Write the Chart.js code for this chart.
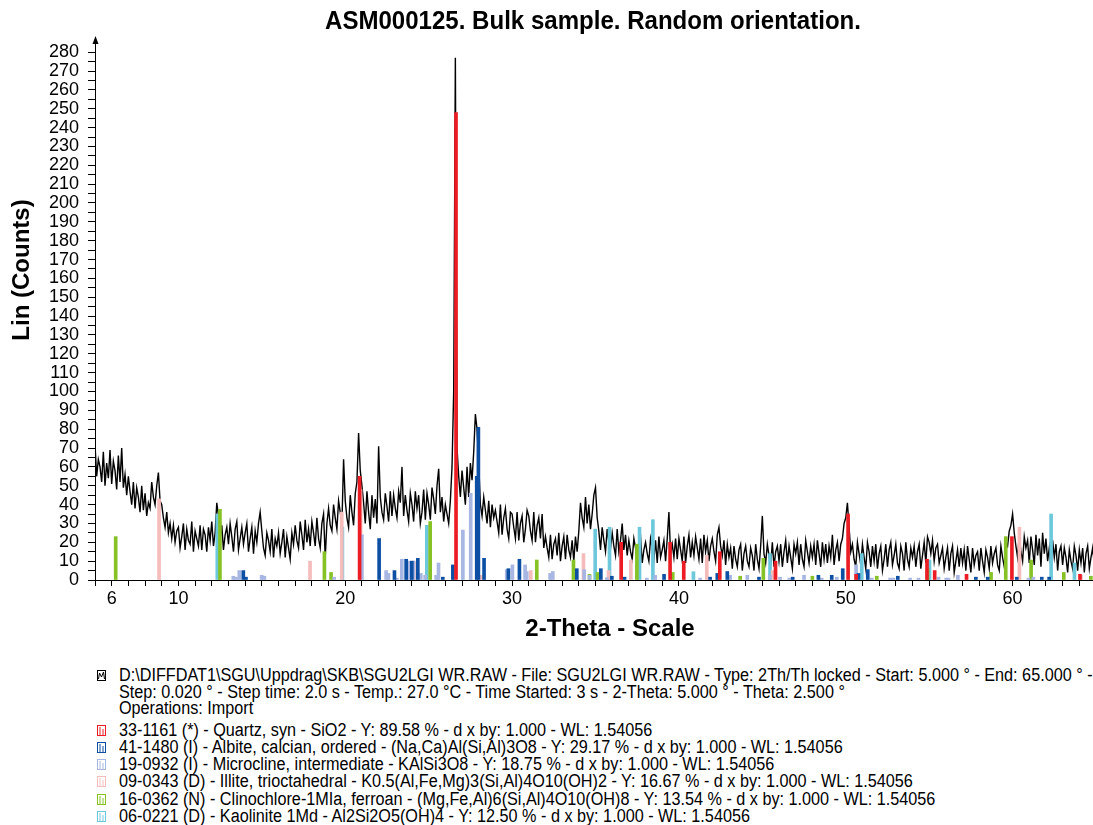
<!DOCTYPE html>
<html>
<head>
<meta charset="utf-8">
<script src="https://cdn.jsdelivr.net/npm/chart.js@4"></script>
<style>
  body { margin: 0; background: #fff; width: 1093px; height: 825px; overflow: hidden; position: relative; font-family: "Liberation Sans", Arial, sans-serif; }
  #wrap { position: absolute; left: 0; top: 0; width: 1100px; height: 660px; }
  .leg { position: absolute; left: 119px; font-size: 18px; line-height: 17px; color: #000; white-space: nowrap; transform: scaleX(0.9); transform-origin: 0 0; }
  .ico { position: absolute; left: 97px; width: 9px; height: 11px; }
</style>
</head>
<body>
<div id="wrap"><canvas id="xrdChart" width="1100" height="660"></canvas></div>
<div id="legend"></div>
<script>
// measured pattern: 2-Theta from 5.0 in steps of 0.1 deg
var thetaStart = 5.0;
var thetaStep = 0.1;
var counts = [
    72,55,64,60,52,68,50,62,54,69,
    51,63,58,48,66,52,70,49,56,45,
    55,47,40,52,38,49,44,36,50,37,
    46,34,41,38,52,44,40,50,57,42,
    40,33,28,36,25,30,22,29,20,26,
    28,17,23,30,16,27,21,19,31,15,
    26,22,18,29,16,27,24,15,28,21,
    31,18,25,41,34,22,29,16,24,28,
    19,30,23,15,27,31,16,22,28,19,
    25,30,15,22,28,14,26,20,30,36,
    26,17,13,25,21,15,27,12,22,18,
    25,14,20,27,12,23,17,11,25,19,
    29,21,17,31,24,16,32,20,27,18,
    31,25,18,33,22,17,30,35,12,30,
    38,29,26,40,33,27,42,36,30,64,
    42,33,28,45,36,29,46,52,78,58,
    50,41,30,47,36,27,45,33,43,30,
    71,44,36,32,46,39,31,47,34,45,
    38,33,47,41,60,34,45,37,31,46,
    40,31,47,38,45,30,36,48,32,46,
    40,32,49,43,35,50,59,36,44,31,
    40,35,30,42,60,100,277,70,55,44,
    58,49,40,60,44,62,53,68,88,80,
    62,40,34,44,37,30,42,28,40,33,
    37,31,25,40,24,33,38,27,22,36,
    35,28,22,36,21,30,34,20,27,37,
    34,26,21,36,20,29,33,22,35,17,
    23,17,12,24,11,19,22,13,25,10,
    18,23,11,24,16,12,21,10,23,15,
    26,41,33,28,44,30,40,27,35,45,
    49,33,26,16,28,21,15,27,20,17,
    25,18,13,27,15,21,30,16,24,13,
    21,15,11,22,17,10,20,23,9,16,
    20,14,10,22,17,11,21,9,23,12,
    16,21,10,22,36,14,19,12,22,11,
    22,16,10,23,9,18,24,12,20,13,
    23,17,11,22,9,24,15,21,10,18,
    22,15,10,24,28,18,13,21,8,19,
    12,17,6,18,11,7,16,19,5,14,
    18,10,7,17,13,5,19,11,6,18,
    34,14,9,19,13,8,20,7,15,18,
    10,19,7,15,21,9,18,12,6,19,
    14,20,8,19,11,7,21,15,9,18,
    12,19,8,21,14,7,20,11,19,9,
    18,12,24,8,16,20,10,19,22,30,
    33,41,28,15,19,11,7,20,14,8,
    19,12,6,20,15,7,18,10,19,6,
    14,18,5,11,19,7,16,20,8,13,
    19,9,6,18,14,5,20,11,7,17,
    12,18,7,15,19,6,13,20,9,23,
    20,14,21,10,17,19,9,13,17,6,
    12,17,5,14,18,4,10,16,7,17,
    9,16,5,18,11,4,17,8,13,15,
    5,17,10,4,16,12,6,18,9,14,
    17,8,5,18,12,7,20,18,26,29,
    35,25,18,12,24,15,10,23,17,21,
    9,23,16,8,24,13,22,7,25,14,
    22,10,17,6,21,12,19,5,15,18,
    8,17,12,4,16,10,6,18,13,5,
    16,9,17,4,14,18,6,12,17,8,
    10
];

// reference patterns (stick positions in deg 2-Theta, heights in counts)
var quartzPos = [20.86, 26.64, 36.54, 39.47, 40.29, 42.45, 45.79, 50.14, 50.62, 54.87, 55.33, 57.24, 59.96, 64.04];
var quartzInt = [55, 248, 20, 20, 10, 15, 10, 35, 3, 11, 5, 3, 23, 3];

var albitePos = [13.89, 14.05, 22.03, 22.95, 23.65, 23.99, 24.35, 25.85, 26.45, 27.88, 27.98, 28.32, 29.78, 30.44, 33.88, 35.32, 35.98, 36.74, 39.11, 41.87, 42.30, 42.90, 44.80, 46.82, 48.36, 49.16, 49.82, 50.76, 51.32, 53.12, 57.80, 58.51, 60.25, 61.75, 62.19];
var albiteInt = [5, 1.5, 22, 5, 11, 10, 11.5, 1.5, 8, 55, 81, 11.5, 6, 11, 6, 6, 2, 1.5, 3, 1.5, 3.5, 4.5, 1.5, 1.5, 2.5, 2.5, 6, 3.5, 5.5, 2, 1.5, 1.5, 1.5, 1.5, 1.5];

var microclinePos = [13.29, 13.45, 13.65, 14.99, 15.15, 19.33, 21.00, 22.45, 22.59, 23.09, 23.39, 23.79, 24.09, 24.53, 24.79, 25.45, 25.59, 27.05, 27.52, 29.68, 30.02, 30.78, 30.88, 32.28, 32.44, 34.32, 34.64, 35.68, 38.08, 38.58, 41.27, 43.07, 44.10, 45.46, 46.06, 46.62, 47.50, 48.56, 49.46, 50.62, 51.56, 52.66, 52.86, 53.86, 54.36, 55.56, 56.02, 56.16, 56.72, 60.95, 61.25];
var microclineInt = [2, 1.5, 5, 2.5, 2, 1.5, 24, 5, 3.5, 1, 11, 10, 10, 3.5, 2.5, 2.5, 9, 26.5, 46, 5.5, 8, 8, 4.5, 3.5, 4.5, 5.5, 2.5, 1.2, 1, 2.5, 1, 2.5, 2.5, 2.5, 1.5, 1, 2.5, 1, 1.5, 8, 1, 1, 1, 1, 1, 1.5, 1, 1, 2.5, 1, 1.5];

var illitePos = [8.84, 17.89, 19.79, 20.92, 24.12, 28.12, 31.12, 34.28, 35.78, 37.12, 41.67, 45.62, 60.41, 64.10];
var illiteInt = [43, 10, 36, 48, 10, 2.5, 5, 14, 5, 10.6, 13, 5, 28, 2.5];

var chlorPos = [6.24, 12.49, 18.75, 19.15, 25.09, 31.48, 33.68, 34.64, 35.12, 37.48, 39.63, 43.67, 45.06, 48.00, 51.86, 54.90, 58.71, 59.59, 61.11, 63.07, 64.69];
var chlorInt = [23, 37.5, 15, 4, 31, 10.6, 10.6, 3, 4, 19, 4, 2, 11.5, 2, 2, 6, 4, 23, 10.6, 4, 2];

var kaolPos = [12.33, 19.83, 24.89, 34.98, 35.84, 37.64, 38.44, 40.87, 45.46, 50.96, 55.02, 62.31, 63.71];
var kaolInt = [35, 28, 29, 27, 28, 28, 32, 4.4, 14, 14, 10.6, 35, 9];

var legendLines = [
    "D:\\DIFFDAT1\\SGU\\Uppdrag\\SKB\\SGU2LGI WR.RAW - File: SGU2LGI WR.RAW - Type: 2Th/Th locked - Start: 5.000 ° - End: 65.000 ° -",
    "Step: 0.020 ° - Step time: 2.0 s - Temp.: 27.0 °C - Time Started: 3 s - 2-Theta: 5.000 ° - Theta: 2.500 °",
    "Operations: Import",
    "33-1161 (*) - Quartz, syn - SiO2 - Y: 89.58 % - d x by: 1.000 - WL: 1.54056",
    "41-1480 (I) - Albite, calcian, ordered - (Na,Ca)Al(Si,Al)3O8 - Y: 29.17 % - d x by: 1.000 - WL: 1.54056",
    "19-0932 (I) - Microcline, intermediate - KAlSi3O8 - Y: 18.75 % - d x by: 1.000 - WL: 1.54056",
    "09-0343 (D) - Illite, trioctahedral - K0.5(Al,Fe,Mg)3(Si,Al)4O10(OH)2 - Y: 16.67 % - d x by: 1.000 - WL: 1.54056",
    "16-0362 (N) - Clinochlore-1MIa, ferroan - (Mg,Fe,Al)6(Si,Al)4O10(OH)8 - Y: 13.54 % - d x by: 1.000 - WL: 1.54056",
    "06-0221 (D) - Kaolinite 1Md - Al2Si2O5(OH)4 - Y: 12.50 % - d x by: 1.000 - WL: 1.54056"
];
var legendMid = [675, 692, 708, 730, 747, 764, 781, 799, 816];
var legendColors = ["#000000", null, null, "#ec1c24", "#0d4fa3", "#a7b6e2", "#f5bcbc", "#86c226", "#6ec8dc"];

function sticks(pos, vals) {
    return pos.map(function (p, i) { return { x: p, y: vals[i] }; });
}

var trace = counts.map(function (c, i) {
    return { x: +(thetaStart + i * thetaStep).toFixed(2), y: c };
});

function stickSet(label, pos, vals, color, order) {
    return {
        type: "bar",
        label: label,
        data: sticks(pos, vals),
        backgroundColor: color,
        borderWidth: 0,
        barThickness: 3,
        grouped: false,
        order: order
    };
}

var FONT = "'Liberation Sans', Arial, sans-serif";

var extras = {
    id: "extras",
    afterDraw: function (chart) {
        var ctx = chart.ctx;
        var area = chart.chartArea;
        ctx.save();
        // arrow at the top of the y axis
        ctx.fillStyle = "#000";
        ctx.beginPath();
        ctx.moveTo(area.left + 0.5, area.top - 3);
        ctx.lineTo(area.left - 2.5, area.top + 5);
        ctx.lineTo(area.left + 3.5, area.top + 5);
        ctx.closePath();
        ctx.fill();

        ctx.textAlign = "center";
        ctx.textBaseline = "middle";
        // chart title
        ctx.save();
        ctx.translate(593, 22);
        ctx.scale(0.925, 1);
        ctx.font = "bold 26px " + FONT;
        ctx.fillText("ASM000125. Bulk sample. Random orientation.", 0, 0);
        ctx.restore();
        // x axis title
        ctx.font = "bold 24px " + FONT;
        ctx.fillText("2-Theta - Scale", 610, 629);
        // y axis title
        ctx.translate(22, 270);
        ctx.rotate(-Math.PI / 2);
        ctx.fillText("Lin (Counts)", 0, 0);
        ctx.restore();
    }
};

var ctx = document.getElementById("xrdChart").getContext("2d");
new Chart(ctx, {
    type: "bar",
    data: {
        datasets: [
            {
                type: "line",
                label: "SGU2LGI WR.RAW",
                data: trace,
                borderColor: "#000000",
                borderWidth: 1.4,
                pointRadius: 0,
                tension: 0,
                order: 10
            },
            stickSet("Kaolinite", kaolPos, kaolInt, "#6ec8dc", 6),
            stickSet("Clinochlore", chlorPos, chlorInt, "#86c226", 5),
            stickSet("Illite", illitePos, illiteInt, "#f5bcbc", 4),
            stickSet("Microcline", microclinePos, microclineInt, "#a7b6e2", 3),
            stickSet("Albite", albitePos, albiteInt, "#0d4fa3", 2),
            stickSet("Quartz", quartzPos, quartzInt, "#ec1c24", 1)
        ]
    },
    options: {
        responsive: false,
        animation: false,
        layout: { padding: { left: 0, right: 4, top: 39, bottom: 0 } },
        plugins: {
            legend: { display: false },
            tooltip: { enabled: false },
            title: { display: false }
        },
        scales: {
            x: {
                type: "linear",
                min: 5,
                max: 65,
                offset: false,
                grid: { offset: false, drawOnChartArea: false, color: "#000", tickLength: 6 },
                border: { color: "#000", width: 1 },
                ticks: {
                    stepSize: 1,
                    autoSkip: false,
                    maxRotation: 0,
                    color: "#000",
                    padding: 2,
                    font: { family: FONT, size: 18 },
                    callback: function (v) { return (v === 6 || (v % 10 === 0 && v < 65)) ? v : ""; }
                },
                afterBuildTicks: function (scale) {
                    scale.ticks = scale.ticks.filter(function (t) { return Number.isInteger(t.value); });
                },
                afterFit: function (scale) { scale.height = 80; }
            },
            y: {
                min: 0,
                max: 287,
                grid: { drawOnChartArea: false, color: "#000", tickLength: 7 },
                border: { color: "#000", width: 1 },
                ticks: {
                    stepSize: 5,
                    autoSkip: false,
                    color: "#000",
                    padding: 9,
                    font: { family: FONT, size: 18 },
                    callback: function (v) { return v % 10 === 0 ? v : ""; }
                },
                afterBuildTicks: function (scale) {
                    scale.ticks = scale.ticks.filter(function (t) { return t.value % 5 === 0; });
                },
                afterFit: function (scale) { scale.width = 95; }
            }
        }
    },
    plugins: [extras]
});

// legend block under the chart
var legend = document.getElementById("legend");
legendLines.forEach(function (txt, i) {
    var d = document.createElement("div");
    d.className = "leg";
    d.style.top = (legendMid[i] - 8.5) + "px";
    d.textContent = txt;
    legend.appendChild(d);
    var col = legendColors[i];
    if (col) {
        var ns = "http://www.w3.org/2000/svg";
        var svg = document.createElementNS(ns, "svg");
        svg.setAttribute("class", "ico");
        svg.setAttribute("viewBox", "0 0 9 11");
        svg.style.top = (legendMid[i] - 5.5) + "px";
        var body = i === 0
            ? '<rect x="0.5" y="0.5" width="8" height="10" fill="none" stroke="' + col + '"/><polyline points="1.5,9 2.5,3 4.5,7 6.5,2 7.5,9" fill="none" stroke="' + col + '"/>'
            : '<rect x="0.5" y="0.5" width="8" height="10" fill="none" stroke="' + col + '"/><line x1="3" y1="2" x2="3" y2="10" stroke="' + col + '"/><line x1="6" y1="4" x2="6" y2="10" stroke="' + col + '"/>';
        svg.innerHTML = body;
        legend.appendChild(svg);
    }
});
</script>
</body>
</html>
